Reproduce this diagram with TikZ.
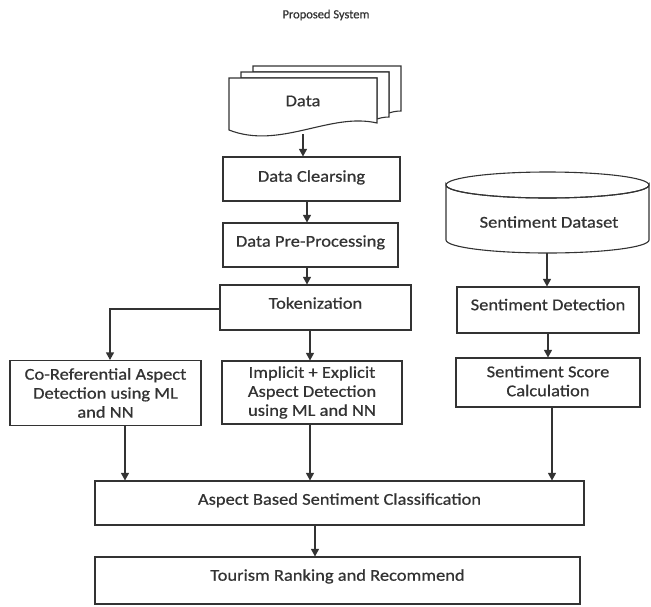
\documentclass[tikz,border=0pt]{standalone}
\usepackage{fontspec}
\setmainfont{Carlito}
\newfontfamily\boxfont[FakeStretch=1.12,FakeBold=0.6]{Carlito}
\newfontfamily\titlefont[FakeBold=0.6]{Carlito}
\usetikzlibrary{arrows.meta}
\definecolor{ln}{HTML}{333333}
\definecolor{tx}{HTML}{333333}
\begin{document}
\begin{tikzpicture}[x=1pt,y=-1pt,
  box/.style={draw=ln, line width=1.1pt, fill=white, rectangle, inner sep=2pt, align=center, text=tx, font=\boxfont\fontsize{16.5}{19}\selectfont},
  lbl/.style={inner sep=0pt, text=tx, align=center, font=\boxfont\fontsize{16.5}{19}\selectfont},
  arr/.style={draw=ln, line width=1.1pt, -{Triangle[length=7.5pt,width=8pt]}},
  shp/.style={draw=ln, line width=1.1pt, fill=white}]
\useasboundingbox (0,0) rectangle (651,606);

% title
\node[inner sep=0pt, text=tx, font=\titlefont\fontsize{12.5}{14}\selectfont] (title) at (326,15) {Proposed System};

% multi-document "Data"
\draw[shp] (253,72) -- (253,66) -- (401,66) -- (401,111) .. controls (396,111) and (392,112) .. (389,113) -- (389,72) -- cycle;
\draw[shp] (241,78) -- (241,72) -- (389,72) -- (389,117) .. controls (384,117) and (380,118) .. (377,119) -- (377,78) -- cycle;
\draw[shp] (229,78) -- (377,78) -- (377,123) .. controls (330,112) and (280,150) .. (229,130) -- cycle;
\node[lbl] (data) at (303,101) {Data};
\coordinate (databot) at (303,134);

% left column boxes
\node[box, minimum width=177pt, minimum height=44pt, text depth=6pt] (clean) at (311.5,179) {Data Clearsing};
\node[box, minimum width=175pt, minimum height=44pt, text depth=8pt] (pre) at (310.5,245) {Data Pre-Processing};
\node[box, minimum width=191pt, minimum height=45pt, text depth=9pt] (tok) at (315.5,307.5) {Tokenization};
\node[box, minimum width=191pt, minimum height=65pt] (coref) at (105.5,393) {Co-Referential Aspect\\Detection using ML\\and NN};
\node[box, minimum width=180pt, minimum height=63pt] (impl) at (312,392.5) {Implicit + Explicit\\Aspect Detection\\using ML and NN};

% sentiment dataset cylinder
\draw[shp] (446,185) -- (446,240) arc[start angle=180, end angle=360, x radius=101.5pt, y radius=13pt] -- (649,185) arc[start angle=0, end angle=-180, x radius=101.5pt, y radius=13pt] -- cycle;
\draw[draw=ln, line width=1.1pt] (547.5,185) ellipse[x radius=101.5pt, y radius=13pt];
\node[lbl] (sds) at (549,222) {Sentiment Dataset};
\coordinate (sdsbot) at (547,253);

\node[box, minimum width=182pt, minimum height=46pt, text depth=11pt] (sdet) at (548,310) {Sentiment Detection};
\node[box, minimum width=184pt, minimum height=49pt, text depth=3pt] (sscore) at (548,382.5) {Sentiment Score\\Calculation};

% bottom boxes
\node[box, minimum width=489pt, minimum height=44pt, text depth=8pt] (absc) at (339.5,503) {Aspect Based Sentiment Classification};
\node[box, minimum width=485pt, minimum height=47pt, text depth=11pt] (tour) at (337.5,580.5) {Tourism Ranking and Recommend};

% connectors
\draw[arr] (databot) -- (databot |- clean.north);
\draw[arr] ([xshift=-4.5pt]clean.south) -- ([xshift=-4.5pt]clean.south |- pre.north);
\draw[arr] ([xshift=-3.5pt]pre.south) -- ([xshift=-3.5pt]pre.south |- tok.north);
\draw[arr] ([yshift=-1.5pt]tok.west) -| ([xshift=4.5pt]coref.north);
\draw[arr] ([xshift=-5.5pt]tok.south) -- ([xshift=-5.5pt]tok.south |- impl.north);
\draw[arr] (sdsbot) -- (sdsbot |- sdet.north);
\draw[arr] (sdet.south) -- (sscore.north);
\draw[arr] ([xshift=4pt]sscore.south) -- ([xshift=4pt]sscore.south |- absc.north);
\draw[arr] ([xshift=19.5pt]coref.south) -- ([xshift=19.5pt]coref.south |- absc.north);
\draw[arr] ([xshift=-2pt]impl.south) -- ([xshift=-2pt]impl.south |- absc.north);
\draw[arr] ([xshift=-24.5pt]absc.south) -- ([xshift=-24.5pt]absc.south |- tour.north);
\end{tikzpicture}
\end{document}
